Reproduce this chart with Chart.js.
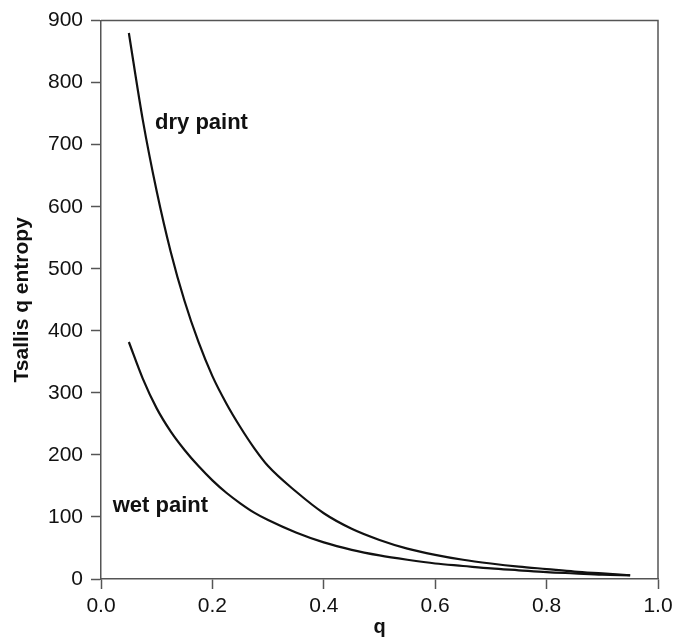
<!DOCTYPE html>
<html>
<head>
<meta charset="utf-8">
<script src="https://cdn.jsdelivr.net/npm/chart.js@4/dist/chart.umd.min.js"></script>
<style>
  html, body { margin: 0; padding: 0; background: #fff; }
  #wrap { width: 690px; height: 639px; }
</style>
</head>
<body>
<div id="wrap"><canvas id="entropyChart" width="690" height="639"></canvas></div>
<script>
// values
const qValues  = [0.05, 0.075, 0.10, 0.125, 0.15, 0.175, 0.20, 0.225, 0.25, 0.275, 0.30, 0.35, 0.40, 0.45, 0.50, 0.55, 0.60, 0.65, 0.70, 0.75, 0.80, 0.85, 0.90, 0.95];
const dryPaint = [880, 740, 625, 528, 448, 382, 327, 283, 245, 211, 182, 141, 106, 81, 63, 49, 39, 31, 25, 20, 16, 12, 9, 6];
const wetPaint = [382, 323, 275, 238, 208, 182, 159, 139, 122, 107, 95, 75, 59, 47, 38, 31, 25, 21, 17, 14, 11, 9, 7, 6];

const xTicks = [0, 0.2, 0.4, 0.6, 0.8, 1.0];
const yTicks = [0, 100, 200, 300, 400, 500, 600, 700, 800, 900];

// curve labels, placed in data coordinates
const labels = [
  { text: 'dry paint', q: 0.097, v: 735 },
  { text: 'wet paint', q: 0.021, v: 118 }
];

const toPoints = vals => qValues.map((q, i) => ({ x: q, y: vals[i] }));

const frameAndLabels = {
  id: 'frameAndLabels',
  afterDatasetsDraw(chart) {
    const { ctx, chartArea: a, scales } = chart;
    ctx.save();
    ctx.strokeStyle = '#555';
    ctx.lineWidth = 1.5;
    ctx.beginPath();
    ctx.moveTo(a.left, a.top);
    ctx.lineTo(a.right, a.top);
    ctx.lineTo(a.right, a.bottom);
    ctx.stroke();

    ctx.fillStyle = '#111';
    ctx.font = 'bold 22px "Liberation Sans", Arial, sans-serif';
    ctx.textBaseline = 'middle';
    labels.forEach(l => {
      ctx.fillText(l.text, scales.x.getPixelForValue(l.q), scales.y.getPixelForValue(l.v));
    });
    ctx.restore();
  }
};

const ctx = document.getElementById('entropyChart').getContext('2d');
new Chart(ctx, {
  type: 'line',
  data: {
    datasets: [
      { label: 'dry paint', data: toPoints(dryPaint), borderColor: '#111', borderWidth: 2.2,
        pointRadius: 0, cubicInterpolationMode: 'monotone', fill: false },
      { label: 'wet paint', data: toPoints(wetPaint), borderColor: '#111', borderWidth: 2.2,
        pointRadius: 0, cubicInterpolationMode: 'monotone', fill: false }
    ]
  },
  options: {
    responsive: false,
    animation: false,
    layout: { padding: { left: 0, right: 32, top: 17, bottom: 0 } },
    plugins: { legend: { display: false }, tooltip: { enabled: false } },
    scales: {
      x: {
        type: 'linear',
        min: 0, max: 1,
        afterBuildTicks: s => { s.ticks = xTicks.map(v => ({ value: v })); },
        afterFit: s => { s.height = 60; },
        ticks: {
          color: '#111', padding: 5,
          font: { family: '"Liberation Sans", Arial, sans-serif', size: 21 },
          callback: v => v.toFixed(1)
        },
        grid: { drawOnChartArea: false, drawTicks: true, tickLength: 10, tickColor: '#555', tickWidth: 1.5 },
        border: { display: true, color: '#555', width: 1.5 },
        title: {
          display: true, text: 'q', color: '#111', padding: { top: 0, bottom: 0 },
          font: { family: '"Liberation Sans", Arial, sans-serif', size: 20, weight: 'bold' }
        }
      },
      y: {
        min: 0, max: 900,
        afterBuildTicks: s => { s.ticks = yTicks.map(v => ({ value: v })); },
        afterFit: s => { s.width = 101; },
        ticks: {
          color: '#111', padding: 8,
          font: { family: '"Liberation Sans", Arial, sans-serif', size: 21 }
        },
        grid: { drawOnChartArea: false, drawTicks: true, tickLength: 10, tickColor: '#555', tickWidth: 1.5 },
        border: { display: true, color: '#555', width: 1.5 },
        title: {
          display: true, text: 'Tsallis q entropy', color: '#111', padding: { top: 10, bottom: 0 },
          font: { family: '"Liberation Sans", Arial, sans-serif', size: 21, weight: 'bold' }
        }
      }
    }
  },
  plugins: [frameAndLabels]
});
</script>
</body>
</html>
